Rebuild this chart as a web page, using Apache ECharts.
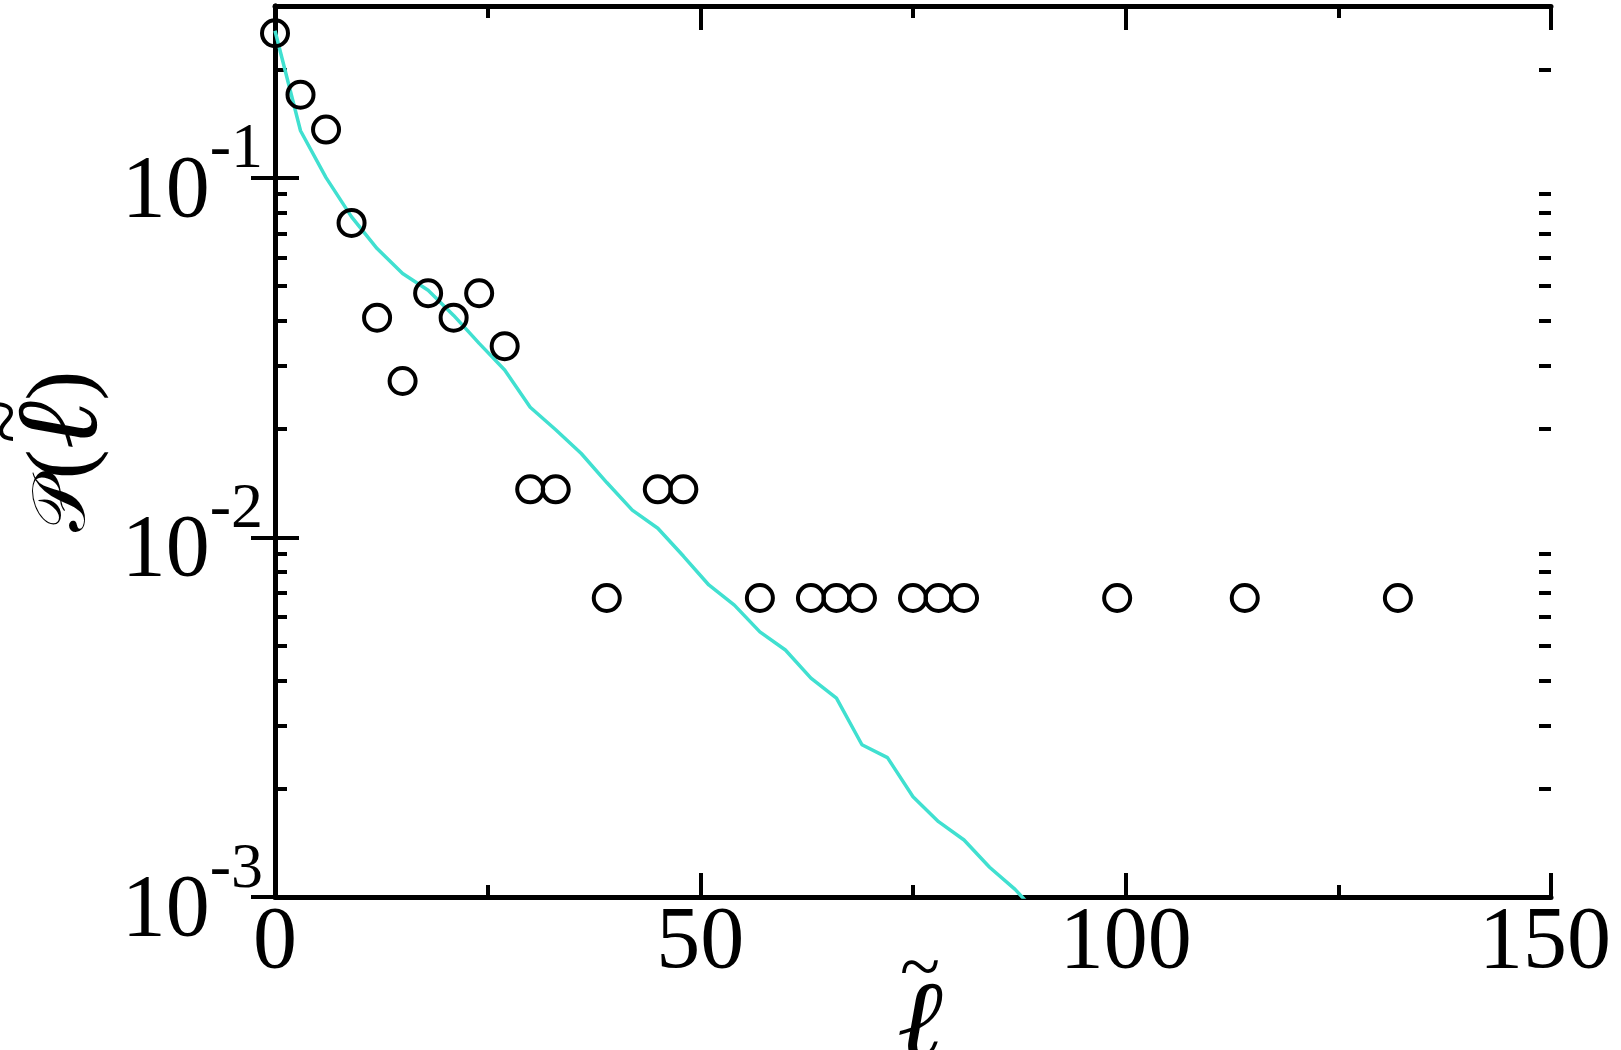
<!DOCTYPE html>
<html>
<head>
<meta charset="utf-8">
<script src="https://cdn.jsdelivr.net/npm/echarts@6/dist/echarts.min.js"></script>
<style>
html, body { margin: 0; padding: 0; background: #fff; }
#chart { width: 1621px; height: 1050px; }
</style>
</head>
<body>
<div id="chart"></div>
<script>
// measured distribution (circles)
var ellPts = [0, 3, 6, 9, 12, 15, 18, 21, 24, 27, 30, 33, 39, 45, 48, 57, 63, 66, 69, 75, 78, 81, 99, 114, 132];
var probPts = [0.252, 0.170, 0.136, 0.0748, 0.0408, 0.0272, 0.0477, 0.0408, 0.0477, 0.0340,
    0.0136, 0.0136, 0.00678, 0.0136, 0.0136, 0.00678, 0.00678, 0.00678, 0.00678, 0.00678,
    0.00678, 0.00678, 0.00678, 0.00678, 0.00678];

// model curve (cyan line)
var ellCurve = [0, 3, 6, 9, 12, 15, 18, 21, 24, 27, 30, 33, 36, 39, 42, 45, 48, 51, 54, 57,
    60, 63, 66, 69, 72, 75, 78, 81, 84, 87, 90];
var probCurve = [0.256, 0.135, 0.100, 0.0778, 0.0635, 0.0541, 0.0486, 0.0414, 0.0346, 0.0292,
    0.0230, 0.0199, 0.0171, 0.0142, 0.0119, 0.0106, 0.00887, 0.00737, 0.00648, 0.00546,
    0.00486, 0.00406, 0.00357, 0.00265, 0.00244, 0.00190, 0.00162, 0.00144, 0.00121, 0.00105, 0.00088];

// axis ticks
var yMajor = [0.001, 0.01, 0.1];
var yMinor = [0.002, 0.003, 0.004, 0.005, 0.006, 0.007, 0.008, 0.009,
    0.02, 0.03, 0.04, 0.05, 0.06, 0.07, 0.08, 0.09, 0.2];
var yExp = ['-3', '-2', '-1'];

var FONT = 'Liberation Serif';
var gridBox = { left: 275, right: 70, top: 6, bottom: 153, outerBoundsMode: 'none' };

var chart = echarts.init(document.getElementById('chart'), null, { renderer: 'canvas' });

function ptPairs(xs, ys) {
    return xs.map(function (x, i) { return [x, ys[i]]; });
}

var xBase = {
    type: 'value', min: 0, max: 150, interval: 50,
    splitLine: { show: false },
    axisLine: { show: true, lineStyle: { color: '#000', width: 5 } },
    axisTick: { show: true, inside: true, length: 24, lineStyle: { color: '#000', width: 4 } },
    minorTick: { show: true, splitNumber: 2, length: 12, lineStyle: { color: '#000', width: 4 } },
    minorSplitLine: { show: false }
};
var yBase = {
    type: 'log', logBase: 10, min: 0.001, max: 0.3,
    splitLine: { show: false },
    axisLine: { show: true, lineStyle: { color: '#000', width: 5 } }
};

var option = {
    animation: false,
    backgroundColor: '#fff',
    grid: [
        Object.assign({}, gridBox),
        Object.assign({}, gridBox),
        Object.assign({}, gridBox)
    ],
    xAxis: [
        Object.assign({}, xBase, {
            gridIndex: 0, position: 'bottom',
            axisLabel: {
                show: true, margin: 3, color: '#000', fontFamily: FONT, fontSize: 88, lineHeight: 88,
                formatter: function (v) { return v === 150 ? '{r|150}' : String(v); },
                rich: { r: { fontFamily: FONT, fontSize: 88, lineHeight: 88, color: '#000', padding: [0, 12, 0, 0] } }
            },
            name: '{t|~}\n{l|ℓ}',
            nameLocation: 'middle',
            nameGap: 64,
            nameMoveOverlap: false,
            nameTextStyle: {
                color: '#000', fontFamily: FONT, padding: [0, 0, 0, 14],
                rich: {
                    t: { fontFamily: FONT, fontSize: 74, lineHeight: 22, color: '#000' },
                    l: { fontFamily: FONT, fontSize: 110, lineHeight: 90, fontStyle: 'italic', color: '#000' }
                }
            }
        }),
        Object.assign({}, xBase, {
            gridIndex: 1, position: 'top',
            axisLabel: { show: false }
        }),
        { type: 'value', gridIndex: 2, min: 0, max: 150, show: false }
    ],
    yAxis: [
        Object.assign({}, yBase, {
            gridIndex: 0, position: 'left',
            axisTick: { show: true, inside: true, length: 24, customValues: yMajor, lineStyle: { color: '#000', width: 4 } },
            axisLabel: {
                show: true, margin: 12, customValues: yMajor,
                formatter: function (v) {
                    var e = Math.round(Math.log10(v));
                    return '{b|10}{s|' + yExp[e + 3] + '}';
                },
                rich: {
                    b: { fontFamily: FONT, fontSize: 88, lineHeight: 118, verticalAlign: 'bottom', color: '#000' },
                    s: { fontFamily: FONT, fontSize: 64, lineHeight: 64, verticalAlign: 'top', color: '#000' }
                }
            },
            name: '{p|𝒫}{m|(}{l|ℓ}{m|)}',
            nameLocation: 'middle',
            nameRotate: 90,
            nameGap: 170,
            nameMoveOverlap: false,
            nameTextStyle: {
                color: '#000', fontFamily: FONT,
                rich: {
                    p: { fontFamily: FONT, fontSize: 74, lineHeight: 80, color: '#000' },
                    m: { fontFamily: FONT, fontSize: 90, lineHeight: 80, color: '#000' },
                    l: { fontFamily: FONT, fontSize: 116, lineHeight: 80, fontStyle: 'italic', color: '#000' }
                }
            }
        }),
        Object.assign({}, yBase, {
            gridIndex: 1, position: 'right',
            axisTick: { show: true, inside: true, length: 24, customValues: yMajor, lineStyle: { color: '#000', width: 4 } },
            axisLabel: { show: false }
        }),
        Object.assign({}, yBase, {
            gridIndex: 2, position: 'left',
            axisLine: { show: false },
            axisTick: { show: true, inside: true, length: 12, customValues: yMinor, lineStyle: { color: '#000', width: 4 } },
            axisLabel: { show: false },
            // tilde accent over the ell of the y title
            name: '~',
            nameLocation: 'middle',
            nameRotate: 90,
            nameGap: 243,
            nameMoveOverlap: false,
            nameTextStyle: { color: '#000', fontFamily: FONT, fontSize: 80, lineHeight: 40, padding: [0, 0, 0, 60] }
        }),
        Object.assign({}, yBase, {
            gridIndex: 2, position: 'right',
            axisLine: { show: false },
            axisTick: { show: true, inside: true, length: 12, customValues: yMinor, lineStyle: { color: '#000', width: 4 } },
            axisLabel: { show: false }
        })
    ],
    series: [
        {
            type: 'line',
            xAxisIndex: 0, yAxisIndex: 0,
            data: ptPairs(ellCurve, probCurve),
            showSymbol: false,
            clip: true,
            lineStyle: { color: '#40e0d0', width: 3.5 },
            z: 2
        },
        {
            type: 'scatter',
            xAxisIndex: 0, yAxisIndex: 0,
            data: ptPairs(ellPts, probPts),
            symbol: 'circle',
            symbolSize: 26,
            itemStyle: { color: 'rgba(0,0,0,0)', borderColor: '#000', borderWidth: 4, opacity: 1 },
            z: 3
        }
    ]
};

chart.setOption(option);
</script>
</body>
</html>
